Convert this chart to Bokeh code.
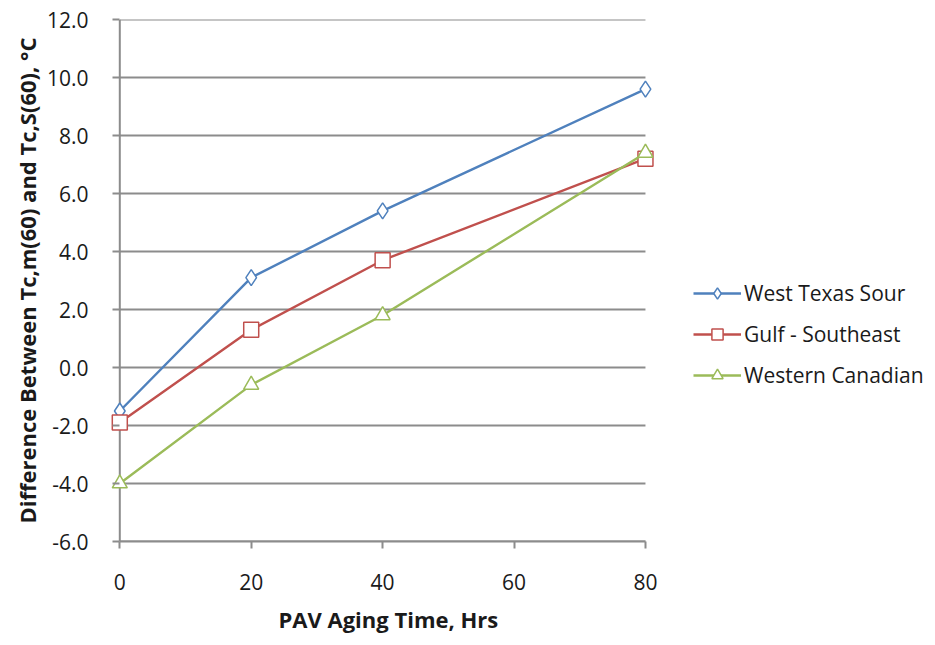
from bokeh.plotting import figure
from bokeh.models import FixedTicker, NumeralTickFormatter, Legend, LegendItem, Range1d, Title
from bokeh.embed import file_html
from bokeh.resources import INLINE

# PAV aging time (hours)
aging_hours = [0, 20, 40, 80]

# Difference between Tc,m(60) and Tc,S(60), degrees C
west_texas_sour = [-1.5, 3.1, 5.4, 9.6]
gulf_southeast = [-1.9, 1.3, 3.7, 7.2]
western_canadian = [-4.0, -0.6, 1.8, 7.4]

x_ticks = [0, 20, 40, 60, 80]
y_ticks = [-6, -4, -2, 0, 2, 4, 6, 8, 10, 12]

FONT = "Open Sans"
TEXT = "#1a1a1a"
GRID = "#8c8c8c"

# The frame starts a little before 0 h (end markers drawn whole) and runs to
# the right edge (room for the legend); axis line, ticks and gridlines are
# bounded to the 0-80 h span.
p = figure(
    width=935, height=645,
    x_range=Range1d(-1.415, 124.14), y_range=Range1d(-6, 12),
    output_backend="svg", toolbar_location=None,
    min_border_left=110, min_border_right=0,
    min_border_top=19, min_border_bottom=104,
)
p.outline_line_color = None
p.background_fill_color = "white"
p.border_fill_color = "white"
p.xgrid.grid_line_color = None
p.ygrid.grid_line_color = None

# horizontal gridlines and the vertical value-axis line over the 0-80 h span
p.segment(x0=[x_ticks[0]] * len(y_ticks), x1=[x_ticks[-1]] * len(y_ticks),
          y0=y_ticks, y1=y_ticks, line_color=GRID, line_width=2)
p.segment(x0=[x_ticks[0]], x1=[x_ticks[0]], y0=[y_ticks[0]], y1=[y_ticks[-1]],
          line_color=GRID, line_width=2)

p.xaxis.ticker = FixedTicker(ticks=x_ticks)
p.xaxis.bounds = (x_ticks[0], x_ticks[-1])
p.yaxis.ticker = FixedTicker(ticks=y_ticks)
p.yaxis.formatter = NumeralTickFormatter(format="0.0")

for ax in (p.xaxis, p.yaxis):
    ax.axis_line_color = GRID
    ax.axis_line_width = 2
    ax.major_tick_line_color = GRID
    ax.major_tick_line_width = 2
    ax.major_tick_out = 7
    ax.major_tick_in = 0
    ax.minor_tick_line_color = None
    ax.major_label_text_font = FONT
    ax.major_label_text_font_size = "21px"
    ax.major_label_text_color = TEXT
    ax.axis_label_text_font = FONT
    ax.axis_label_text_font_size = "22px"
    ax.axis_label_text_font_style = "bold"
    ax.axis_label_text_color = TEXT

# value axis sits at the frame edge; its ticks are pulled in to meet the
# vertical line drawn at 0 h
p.yaxis.axis_line_color = None
p.yaxis.major_tick_in = 9
p.yaxis.major_tick_out = -2
p.yaxis.major_label_standoff = 22
p.yaxis.axis_label = "Difference Between Tc,m(60) and Tc,S(60), \u00b0C"
p.yaxis.axis_label_standoff = 2

p.xaxis.major_label_standoff = 25

# time-axis title, placed over the 0-80 h span
x_title = Title(text="PAV Aging Time, Hrs", align="left", offset=168,
                text_font=FONT, text_font_size="22px", text_font_style="bold",
                text_color=TEXT, standoff=18, vertical_align="bottom")
p.add_layout(x_title, "below")

series = [
    ("West Texas Sour", west_texas_sour, "#4f81bd", "diamond", 16),
    ("Gulf - Southeast", gulf_southeast, "#c0504d", "square", 15),
    ("Western Canadian", western_canadian, "#9bbb59", "triangle", 15),
]

items = []
for name, vals, color, marker, size in series:
    ln = p.line(aging_hours, vals, line_color=color, line_width=2.4)
    sc = p.scatter(aging_hours, vals, marker=marker, size=size,
                   fill_color="white", line_color=color, line_width=1.5)
    items.append(LegendItem(label=name, renderers=[ln, sc]))

legend = Legend(items=items, location=(583, 152))
legend.border_line_color = None
legend.background_fill_alpha = 0
legend.label_text_font = FONT
legend.label_text_font_size = "21px"
legend.label_text_color = TEXT
legend.glyph_width = 48
legend.glyph_height = 28
legend.spacing = 13
legend.label_standoff = 3
legend.padding = 0
legend.margin = 0
p.add_layout(legend, "center")

open("out.html", "w").write(file_html(p, INLINE))
